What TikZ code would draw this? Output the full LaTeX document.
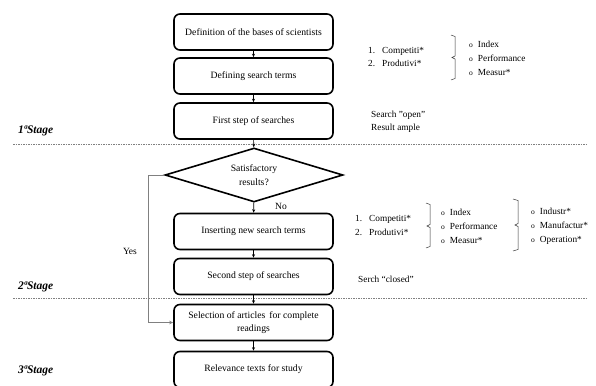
\documentclass[tikz,border=0pt]{standalone}
\usepackage{fontspec}
\setmainfont{Liberation Serif}
\usetikzlibrary{shapes.geometric,arrows.meta}
\newcommand{\blt}{{\fontsize{7.5}{8}\selectfont o}}
\begin{document}
\begin{tikzpicture}[x=1pt,y=-1pt,
  stepbox/.style={draw, line width=1.6pt, rounded corners=6pt, minimum width=159pt,
    minimum height=36pt, inner sep=0pt, align=center, font=\fontsize{9.7}{13}\selectfont},
  decision/.style={draw, diamond, line width=1.6pt, minimum width=178pt, minimum height=54pt,
    inner sep=0pt, aspect=3.3, align=center, font=\fontsize{9.7}{14}\selectfont},
  flow/.style={-{Stealth[length=3.5pt,width=3pt]}, line width=0.6pt},
  yesline/.style={draw=gray, line width=0.6pt, -{Stealth[length=4pt,width=3.5pt]}},
  sep/.style={draw=gray, dash pattern=on 1.5pt off 1pt, line width=0.6pt},
  stage/.style={font=\fontsize{11.5}{13}\selectfont\bfseries\itshape, anchor=west, inner sep=0pt},
  note/.style={font=\fontsize{9.3}{13}\selectfont, anchor=west, align=left, inner sep=0pt},
  lbl/.style={font=\fontsize{9.5}{12}\selectfont, inner sep=0pt},
  brace/.style={line width=0.5pt, draw=black!80}
]
\useasboundingbox (0,0) rectangle (596,385);
\clip (0,0) rectangle (596,385);

% separators
\draw[sep] (13,144) -- (587,144);
\draw[sep] (13,298) -- (587,298);

% stage labels
\node[stage] (s1) at (18,131) {1ªStage};
\node[stage] (s2) at (18,287) {2ªStage};
\node[stage] (s3) at (18,371) {3ªStage};

% flow boxes
\node[stepbox] (b1) at (253.5,32) {Definition of the bases of scientists};
\node[stepbox] (b2) at (253.5,76) {Defining search terms};
\node[stepbox] (b3) at (253.5,121) {First step of searches};
\node[decision] (dia) at (254,175) {Satisfactory\\results?};
\node[stepbox] (b4) at (253.5,231.5) {Inserting new search terms};
\node[stepbox] (b5) at (253.5,276.5) {Second step of searches};
\node[stepbox] (b6) at (253.5,322.5) {Selection of articles\, for complete\\readings};
\node[stepbox] (b7) at (253.5,369.5) {Relevance texts for study};

\draw[flow] (b1) -- (b2);
\draw[flow] (b2) -- (b3);
\draw[flow] (b3) -- (dia);
\draw[flow] (dia) -- (b4);
\draw[flow] (b4) -- (b5);
\draw[flow] (b5) -- (b6);
\draw[flow] (b6) -- (b7);

\node[lbl] (no) at (281,206) {No};
\node[lbl] (yes) at (130,251) {Yes};
\coordinate (yc) at (148,322.5);
\draw[yesline] (dia.west) -| (yc) -- (b6.west);

% notes group 1
\node[note] (n1) at (368,57.5) {\begin{tabular}{@{}l@{\hspace{7pt}}l@{}}1. & Competiti*\\ 2. & Produtivi*\end{tabular}};
\draw[brace] (451,35) -- (455,36.5) -- (455,56) -- (452,57.5) -- (455,59) -- (455,78.5) -- (451,80);
\node[note, font=\fontsize{9.3}{14}\selectfont] (m1) at (469,59) {\begin{tabular}{@{}l@{\hspace{5pt}}l@{}}\blt & Index\\ \blt & Performance\\ \blt & Measur*\end{tabular}};
\node[note] (o1) at (371,121.5) {Search "open"\\Result ample};

% notes group 2
\node[note, font=\fontsize{9.3}{14}\selectfont] (n2) at (355,226) {\begin{tabular}{@{}l@{\hspace{7pt}}l@{}}1. & Competiti*\\ 2. & Produtivi*\end{tabular}};
\draw[brace] (426,203) -- (430,204.5) -- (430,224.5) -- (427,226) -- (430,227.5) -- (430,246.5) -- (426,248);
\node[note, font=\fontsize{9.3}{14}\selectfont] (m2) at (441,227) {\begin{tabular}{@{}l@{\hspace{5pt}}l@{}}\blt & Index\\ \blt & Performance\\ \blt & Measur*\end{tabular}};
\draw[brace] (513,199) -- (518,200.5) -- (518,223.5) -- (515,225) -- (518,226.5) -- (518,249.5) -- (513,251);
\node[note, font=\fontsize{9.3}{14}\selectfont] (m3) at (531,226) {\begin{tabular}{@{}l@{\hspace{5pt}}l@{}}\blt & Industr*\\ \blt & Manufactur*\\ \blt & Operation*\end{tabular}};
\node[note] (c2) at (358,279) {Serch “closed”};
\end{tikzpicture}
\end{document}
